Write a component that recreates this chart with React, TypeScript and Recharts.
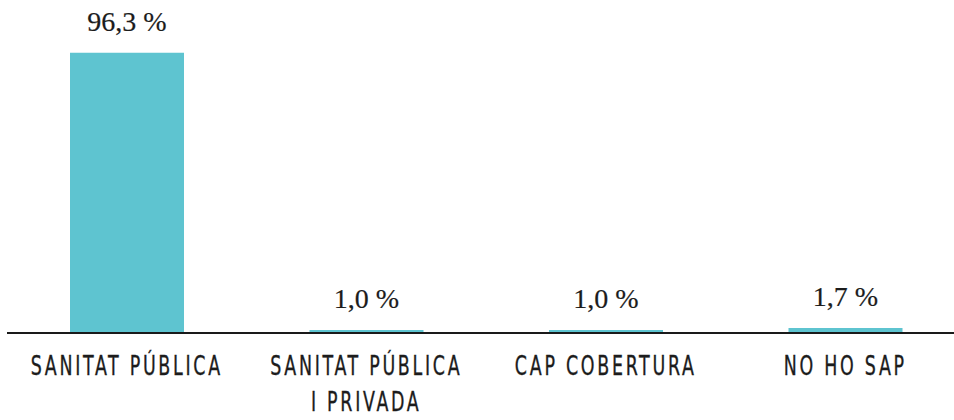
import { BarChart, Bar, XAxis, YAxis, LabelList } from 'recharts';

const categories = ['SANITAT PÚBLICA', 'SANITAT PÚBLICA\nI PRIVADA', 'CAP COBERTURA', 'NO HO SAP'];
const values = [96.3, 1.0, 1.0, 1.7];

const data = categories.map((name, i) => ({ name, value: values[i] }));

const BAR_COLOR = '#5ec4d0';
const TEXT_COLOR = '#1c1c1c';

const fmt = (v: any) => `${Number(v).toFixed(1).replace('.', ',')} %`;

const CategoryTick = (props: any) => {
  const { x, y, payload } = props;
  const lines = String(payload.value).split('\n');
  return (
    <g>
      {lines.map((line, i) => (
        <text
          key={i}
          transform={`translate(${x},${y + 34 + i * 36}) scale(0.97,1.3)`}
          textAnchor="middle"
          fill={TEXT_COLOR}
          stroke={TEXT_COLOR}
          strokeWidth={0.25}
          fontFamily="'Liberation Sans Narrow', 'DejaVu Sans Condensed', sans-serif"
          fontSize={20}
          letterSpacing={2.8}
        >
          {line}
        </text>
      ))}
    </g>
  );
};

export default function App() {
  return (
    <div style={{ position: 'absolute', left: 0, top: 0, width: 954, height: 420, overflow: 'hidden' }}>
      <BarChart
        width={965}
        height={420}
        data={data}
        margin={{ top: 42, right: 0, bottom: 0, left: 7 }}
      >
        <XAxis
          dataKey="name"
          height={87}
          interval={0}
          tickLine={false}
          axisLine={{ stroke: '#1a1a1a', strokeWidth: 2 }}
          tick={<CategoryTick />}
        />
        <YAxis hide width={0} domain={[0, 100]} />
        <Bar dataKey="value" fill={BAR_COLOR} barSize={114} isAnimationActive={false}>
          <LabelList
            dataKey="value"
            position="top"
            offset={22}
            formatter={fmt}
            fill={TEXT_COLOR}
            stroke={TEXT_COLOR}
            strokeWidth={0.2}
            fontFamily="'Liberation Serif', serif"
            fontSize={28}
          />
        </Bar>
      </BarChart>
    </div>
  );
}
